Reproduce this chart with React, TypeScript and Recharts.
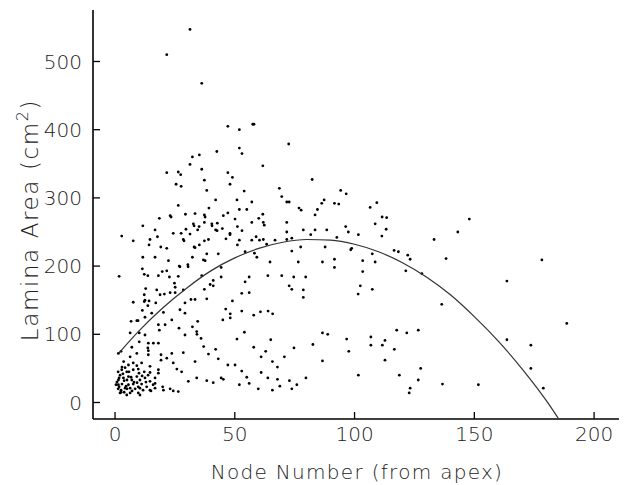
import React from 'react';
import { ScatterChart, Scatter, XAxis, YAxis } from 'recharts';

const xTicks = [0, 50, 100, 150, 200];
const yTicks = [0, 100, 200, 300, 400, 500];

const curveNode = [1.5, 10, 20, 30, 40, 50, 60, 70, 80, 90, 100, 110, 120, 130, 140, 150, 160, 170, 180, 185];
const curveArea = [72, 105, 139, 168, 193, 212, 226, 235, 239, 238, 232, 221, 205, 184, 158, 126, 90, 49, 3, -23];

const upperPoints: [number, number][] = [
  [31.3, 547], [21.6, 510], [36.2, 468], [47.1, 405], [51.9, 400], [57.5, 408], [58.0, 408],
  [72.5, 379], [42.5, 368], [51.9, 373], [53.0, 365], [35.2, 363], [32.3, 360], [31.3, 349], [61.7, 347],
  [36.2, 342], [21.6, 337], [26.4, 338], [27.4, 334], [47.1, 337], [49.0, 330], [82.3, 327], [37.3, 326],
  [25.5, 320], [27.6, 317], [48.0, 320], [68.6, 314], [38.3, 311], [53.9, 310], [69.6, 302], [94.2, 311],
  [96.5, 306], [71.7, 294], [72.7, 294], [42.0, 297], [50.9, 297], [57.1, 294], [26.4, 289], [76.8, 285],
  [77.7, 282], [87.3, 297], [86.3, 292], [91.6, 292], [93.4, 291], [109.3, 293], [106.5, 286], [51.9, 283],
  [55.0, 283], [84.5, 283], [83.5, 275], [18.5, 270], [23.0, 274], [23.4, 272], [29.4, 276], [33.4, 277],
  [37.3, 275], [37.6, 272], [39.2, 285], [45.2, 274], [47.1, 278], [50.1, 269], [61.7, 276], [60.0, 270],
  [111.5, 272], [113.4, 271],
];

const midPoints: [number, number][] = [
  [11.6, 259], [16.7, 253], [24.3, 248], [27.6, 248], [29.6, 254], [32.7, 262], [33.0, 259], [34.5, 253],
  [35.1, 258], [37.3, 264], [40.4, 262], [40.5, 259], [42.0, 253], [42.6, 252], [42.7, 263], [44.8, 255],
  [48.0, 248], [51.1, 258], [53.0, 252], [57.1, 264], [61.9, 264], [62.3, 260], [71.7, 264], [71.7, 250],
  [78.6, 253], [81.7, 246], [83.5, 253], [88.4, 253], [96.3, 258], [97.4, 250], [101.6, 246], [108.6, 262],
  [113.2, 254], [111.4, 244], [2.8, 244], [7.6, 237], [14.6, 239], [17.7, 243], [19.1, 228], [14.2, 231],
  [28.5, 239], [28.8, 237], [31.3, 247], [33.0, 228], [33.4, 227], [35.2, 231], [37.3, 237], [39.0, 239],
  [46.3, 240], [48.0, 246], [51.1, 231], [51.9, 238], [57.1, 238], [58.9, 243], [60.3, 238], [61.9, 239],
  [63.3, 232], [66.8, 238], [71.7, 239], [73.8, 241], [77.5, 228], [87.7, 228], [92.6, 242], [98.8, 226],
  [21.6, 226],
  [38.3, 218], [43.1, 218], [36.9, 209], [37.6, 208], [54.3, 221], [58.2, 219], [59.2, 213], [73.8, 222],
  [64.7, 206], [76.5, 206], [86.6, 206], [44.3, 198], [36.2, 186], [44.3, 184], [54.3, 177], [56.0, 184],
  [63.8, 186], [69.6, 186], [74.6, 184], [79.6, 184], [41.0, 179], [39.7, 173], [41.0, 171], [37.3, 166],
  [72.7, 171], [73.8, 166], [78.6, 165], [52.9, 160], [56.0, 161], [78.6, 154], [33.4, 151], [38.3, 152],
  [49.0, 149], [46.2, 137], [48.1, 130], [48.1, 124], [45.0, 121], [52.9, 134], [57.9, 128], [60.7, 133],
  [63.9, 134], [65.8, 130], [34.5, 119], [34.1, 104], [34.2, 100], [35.9, 94], [54.0, 103], [50.9, 93],
  [65.0, 92], [86.6, 102], [82.6, 85], [37.0, 82], [42.0, 78], [57.9, 81], [74.7, 80], [62.9, 75],
  [39.0, 71], [43.1, 64], [61.0, 67], [70.7, 67], [86.6, 61], [33.4, 60], [47.1, 55], [50.1, 55],
  [65.7, 60], [67.8, 52], [52.9, 46], [61.0, 44], [55.0, 37], [34.1, 36], [38.3, 32], [41.0, 29],
  [44.3, 36], [45.2, 34], [63.8, 36], [67.8, 34], [72.8, 32], [79.7, 36], [56.0, 28], [51.9, 26],
  [59.8, 20], [65.7, 18], [68.8, 24], [73.8, 20], [75.9, 26],
];

const rightPoints: [number, number][] = [
  [133.2, 239], [143.1, 250], [147.9, 269], [116.5, 223], [118.3, 221], [122.2, 216], [123.2, 210],
  [121.4, 193], [128.1, 189], [138.2, 211], [178.2, 209], [163.6, 178], [136.4, 144], [188.6, 116],
  [117.6, 106], [121.8, 102], [126.6, 106], [116.6, 78], [112.7, 62], [112.7, 91], [111.6, 84], [106.8, 96],
  [106.8, 84], [96.7, 93], [97.6, 75], [101.6, 40], [118.7, 40], [127.6, 50], [126.6, 33], [123.2, 21],
  [122.8, 14], [136.7, 27], [151.7, 26], [163.6, 92], [173.6, 84], [173.6, 50], [178.8, 21], [91.6, 210],
  [91.6, 198], [103.4, 208], [103.4, 192], [108.6, 206], [107.4, 218], [102.4, 171], [101.5, 159],
  [107.4, 166], [98.4, 224], [88.8, 100],
];

const youngPoints: [number, number][] = [
  [11.6, 213], [16.7, 213], [22.3, 208], [26.8, 200], [27.1, 199], [30.4, 202], [30.5, 199], [32.3, 213],
  [1.7, 185], [11.4, 196], [12.2, 188], [13.7, 186], [18.1, 186], [19.7, 192], [21.6, 193], [22.7, 184],
  [24.8, 175], [25.1, 169], [26.4, 185], [28.5, 165], [12.8, 167], [17.4, 165], [18.8, 158], [20.6, 159],
  [23.0, 161], [25.1, 161], [12.2, 158], [7.6, 147], [12.2, 148], [12.5, 150], [13.7, 142], [14.2, 149],
  [17.0, 146], [20.2, 132], [29.2, 146], [31.7, 151], [27.1, 136], [29.2, 131], [11.4, 135], [15.3, 131],
  [12.5, 125], [9.1, 120], [9.6, 120], [6.7, 119], [6.3, 102], [10.1, 102], [18.1, 114], [18.5, 106],
  [20.9, 114], [23.7, 121], [26.7, 109], [29.2, 99], [32.3, 111], [16.0, 87], [18.1, 87], [13.7, 80],
  [13.9, 70], [13.9, 76], [7.0, 81], [9.1, 72], [6.3, 67], [2.5, 75], [1.4, 72], [23.7, 72], [28.5, 73],
  [19.2, 70], [21.6, 65], [19.2, 62], [24.3, 58], [3.6, 60], [5.6, 55], [7.6, 58], [9.1, 54], [11.1, 58],
  [12.5, 99], [10.1, 89], [13.9, 87],
];

const clusterPoints: [number, number][] = [
  [2.8, 48], [4.9, 45], [7.6, 48], [9.7, 49], [12.2, 45], [14.6, 53], [14.6, 44], [18.1, 48], [18.1, 43],
  [25.8, 49], [27.8, 45], [2.1, 40], [1.4, 33], [3.5, 36], [5.6, 38], [7.0, 33], [9.1, 38], [10.4, 33],
  [12.5, 36], [14.6, 31], [16.7, 36], [16.7, 28], [30.6, 31], [1.4, 26], [2.5, 18], [4.2, 21], [5.6, 26],
  [7.6, 27], [9.7, 23], [11.1, 27], [13.2, 23], [14.6, 18], [16.7, 21], [19.9, 23], [23.0, 20], [2.1, 14],
  [6.3, 14], [9.7, 14], [4.9, 11], [10.4, 11], [15.0, 17], [20.2, 18], [24.3, 17], [26.4, 16],
  [0.8, 30], [1.7, 23], [2.9, 27], [3.8, 32], [4.6, 24], [1.3, 20], [2.5, 15], [3.8, 15], [5.0, 20],
  [6.3, 21], [7.1, 17], [8.4, 20], [1.7, 36], [3.3, 42], [5.0, 33], [6.7, 37], [7.9, 30], [9.2, 29],
  [10.4, 21], [11.7, 18], [0.4, 26], [1.3, 45], [2.9, 52], [4.2, 51], [5.8, 45], [10.0, 43], [11.3, 39],
  [12.9, 30], [13.8, 40], [15.9, 26],
];

const allPoints = [...upperPoints, ...midPoints, ...rightPoints, ...youngPoints, ...clusterPoints].map(
  ([x, y]) => ({ x, y })
);
const curveData = curveNode.map((x, i) => ({ x, y: curveArea[i] }));

const FONT = '"DejaVu Sans", sans-serif';
const TEXT_FILL = '#222';

const Dot = (props: any) => {
  if (props.cx == null || props.cy == null) return <g />;
  return <circle cx={props.cx} cy={props.cy} r={1.4} fill="#000" />;
};

const NoShape = () => <g />;

const YTitle = () => (
  <text
    x={38}
    y={220}
    transform="rotate(-90 38 220)"
    textAnchor="middle"
    fontFamily={FONT}
    fontSize={23}
    fontWeight={300}
    letterSpacing={1.6}
    fill={TEXT_FILL}
  >
    Lamina Area (cm<tspan dy={-10} fontSize={16}>2</tspan>
    <tspan dy={10}>)</tspan>
  </text>
);

const XTitle = () => (
  <text
    x={357}
    y={479}
    textAnchor="middle"
    fontFamily={FONT}
    fontSize={20}
    fontWeight={300}
    letterSpacing={1.3}
    fill={TEXT_FILL}
  >
    Node Number (from apex)
  </text>
);

export default function App() {
  const tickStyle = { fontFamily: FONT, fontSize: 20, fill: TEXT_FILL, fontWeight: 300 };
  return (
    <div style={{ position: 'absolute', left: 0, top: 0, background: '#fff' }}>
      <ScatterChart width={626} height={485} margin={{ top: 10, right: 7, left: 0, bottom: 0 }}>
        <XAxis
          type="number"
          dataKey="x"
          domain={[-9.2, 210.4]}
          allowDataOverflow
          ticks={xTicks}
          height={66}
          tickSize={-7}
          tickMargin={15}
          tick={tickStyle}
          axisLine={{ stroke: '#000', strokeWidth: 1.6 }}
          tickLine={{ stroke: '#000', strokeWidth: 1.3 }}
          label={<XTitle />}
        />
        <YAxis
          type="number"
          dataKey="y"
          domain={[-24.2, 575.5]}
          allowDataOverflow
          ticks={yTicks}
          width={93}
          tickSize={-7}
          tickMargin={18}
          tick={tickStyle}
          axisLine={{ stroke: '#000', strokeWidth: 1.6 }}
          tickLine={{ stroke: '#000', strokeWidth: 1.3 }}
          label={<YTitle />}
        />
        <Scatter data={allPoints} shape={Dot} isAnimationActive={false} />
        <Scatter
          data={curveData}
          shape={NoShape}
          line={{ stroke: '#333', strokeWidth: 1.2 }}
          lineJointType="monotoneX"
          isAnimationActive={false}
        />
      </ScatterChart>
    </div>
  );
}
